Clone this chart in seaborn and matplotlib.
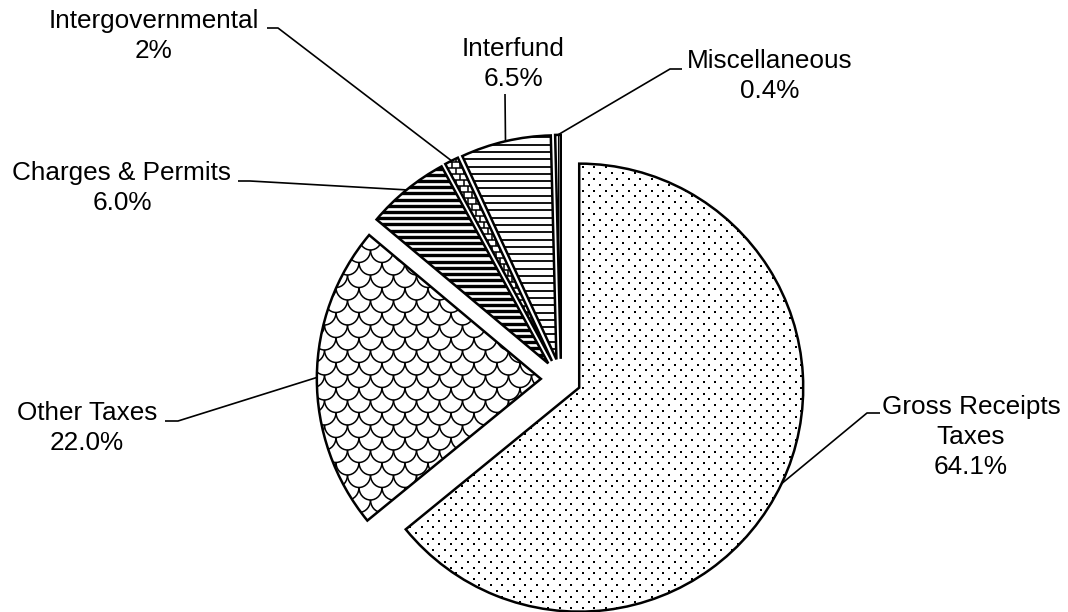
import numpy as np
import matplotlib
matplotlib.use("Agg")
import matplotlib.pyplot as plt
from matplotlib.collections import LineCollection
import seaborn as sns

# ---------------- data ----------------
categories = ["Gross Receipts\nTaxes", "Other Taxes", "Charges & Permits",
              "Intergovernmental", "Interfund", "Miscellaneous"]
values = [64.1, 22.0, 6.0, 1.0, 6.5, 0.4]
pct_labels = ["64.1%", "22.0%", "6.0%", "2%", "6.5%", "0.4%"]

# ---------------- layout (pixels) ----------------
W, H = 1068, 612
CX, CY, S = 561, 379, 224          # pie centre (px) and px per data unit
label_pos = [(971, 437), (87, 428), (122, 188), (154, 36), (513, 64), (770, 76)]
leader_start = [[(880, 413), (867, 413)], [(165, 421), (178, 421)],
                [(238, 181), (250, 181)], [(267, 28), (278, 28)],
                [(505, 94)], [(682, 69), (670, 69)]]

sns.set_theme(style="white")
plt.rcParams["font.family"] = ["Liberation Sans", "DejaVu Sans"]


def d(px, py):
    return ((px - CX) / S, (CY - py) / S)


fig = plt.figure(figsize=(W / 100, H / 100), dpi=100)
ax = fig.add_axes([0, 0, 1, 1])
wedges, _ = ax.pie(values, startangle=90, counterclock=False,
                   explode=[0.09] * len(values), radius=1.0, center=(0, 0),
                   wedgeprops=dict(edgecolor="black", linewidth=1.8,
                                   facecolor="none"))
ax.set_aspect("auto")
ax.set_xlim(-CX / S, (W - CX) / S)
ax.set_ylim(-(H - CY) / S, CY / S)
ax.axis("off")


def add_lines(segs_px, wedge, lw):
    segs = [[d(x, y) for x, y in seg] for seg in segs_px]
    lc = LineCollection(segs, colors="black", linewidths=lw, zorder=4,
                        capstyle="butt")
    lc.set_clip_path(wedge)
    ax.add_collection(lc)


# Gross receipts: staggered dots
gx, gy = [], []
for j, yy in enumerate(np.arange(150, 620, 5.8)):
    off = 0 if j % 2 == 0 else 5.75
    for xx in np.arange(370 + off, 830, 11.5):
        p = d(xx, yy)
        gx.append(p[0]); gy.append(p[1])
sc = ax.scatter(gx, gy, s=3.0, marker="s", c="black", linewidths=0, zorder=2)
sc.set_clip_path(wedges[0])

# Other taxes: scale net
segs = []
t = np.linspace(0, np.pi, 16)
for j, yy in enumerate(np.arange(200, 560, 12.5)):
    off = 0 if j % 2 == 0 else 11.5
    for xc in np.arange(290 + off, 580, 23):
        segs.append(list(zip(xc + 11.5 * np.cos(t), yy + 12.5 * np.sin(t))))
add_lines(segs, wedges[1], 1.1)

# Charges & permits: heavy horizontal lines
segs = [[(350, yy), (580, yy)] for yy in np.arange(150, 400, 6.2)]
add_lines(segs, wedges[2], 2.4)

# Intergovernmental: brick pattern
segs = [[(420, yy), (580, yy)] for yy in np.arange(150, 400, 6)]
for j, yy in enumerate(np.arange(150, 400, 6)):
    off = 0 if j % 2 == 0 else 4
    for xx in np.arange(420 + off, 580, 8):
        segs.append([(xx, yy), (xx, yy + 6)])
add_lines(segs, wedges[3], 1.1)

# Interfund: thin horizontal lines
segs = [[(450, yy), (580, yy)] for yy in np.arange(130, 400, 7.3)]
add_lines(segs, wedges[4], 1.3)

# Miscellaneous: dense vertical lines
segs = [[(xx, 120), (xx, 380)] for xx in np.arange(550, 566, 2.5)]
add_lines(segs, wedges[5], 0.8)

for w in wedges:
    w.set_zorder(5)

# labels and leader lines
for w, cat, pct, pos, start in zip(wedges, categories, pct_labels,
                                    label_pos, leader_start):
    mid = np.deg2rad((w.theta1 + w.theta2) / 2)
    cx, cy = w.center
    ex, ey = cx + w.r * np.cos(mid), cy + w.r * np.sin(mid)
    pts = [d(*p) for p in start] + [(ex, ey)]
    ax.plot([p[0] for p in pts], [p[1] for p in pts], color="black",
            lw=1.2, zorder=6, solid_capstyle="butt")
    tx, ty = d(*pos)
    ax.text(tx, ty, f"{cat}\n{pct}", ha="center", va="center",
            fontsize=18.8, color="black", linespacing=1.33, zorder=7)

fig.savefig("out.png", dpi=100, facecolor="white")
